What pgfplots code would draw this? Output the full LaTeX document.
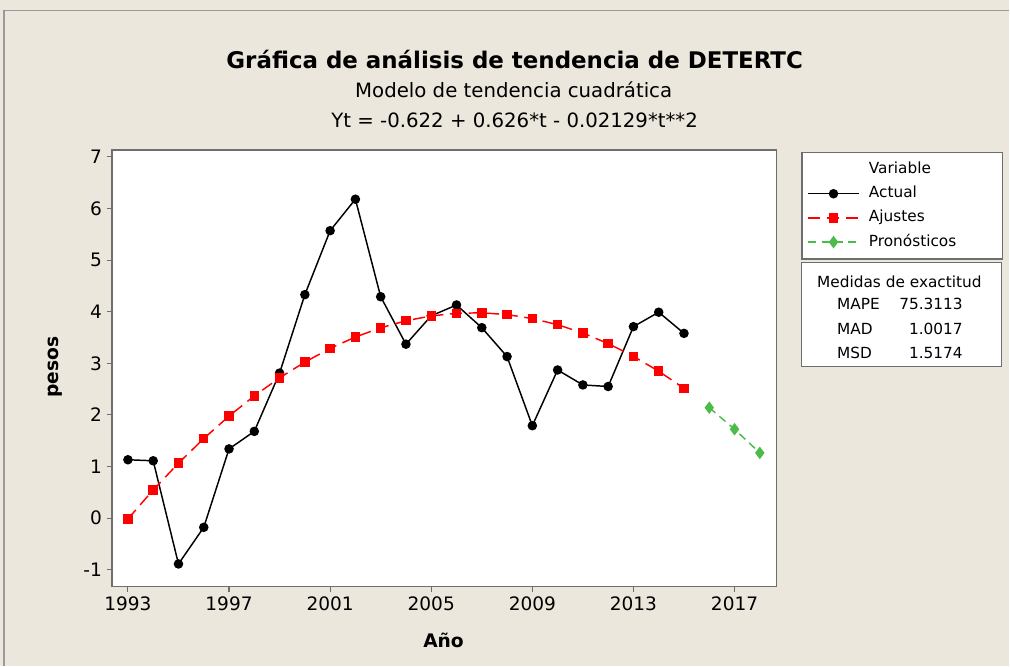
\documentclass[border=0pt]{standalone}
\usepackage{pgfplots}
\pgfplotsset{compat=1.18}
\usepackage{fontspec}
\setmainfont{DejaVu Sans}
\definecolor{bg}{RGB}{236,231,221}
\definecolor{frame}{RGB}{110,110,110}
\definecolor{fitred}{RGB}{255,0,0}
\definecolor{fcgreen}{RGB}{76,187,71}
\begin{document}
\begin{tikzpicture}
\fill[bg] (0,0) rectangle (757.5pt,499.5pt);
\draw[frame!70, line width=1pt] (3pt,0) -- (3pt,491.5pt) -- (757.5pt,491.5pt);
\node[font=\bfseries\fontsize{17.2}{20}\selectfont] at (386.25pt,454.5pt) {Gráfica de análisis de tendencia de DETERTC};
\node[font=\fontsize{14.8}{17}\selectfont] at (385.5pt,432pt) {Modelo de tendencia cuadrática};
\node[font=\fontsize{14.8}{17}\selectfont] at (386.25pt,409.5pt) {Yt = -0.622 + 0.626*t - 0.02129*t**2};
\begin{axis}[
  at={(84pt,59.25pt)}, anchor=south west,
  scale only axis, width=498.75pt, height=327.75pt,
  xmin=1992.367, xmax=2018.66, ymin=-1.329, ymax=7.136,
  xtick={1993,1997,2001,2005,2009,2013,2017},
  ytick={-1,0,1,2,3,4,5,6,7},
  tick pos=left, tick align=outside, major tick length=4pt,
  tick style={frame, line width=0.8pt},
  axis line style={frame, line width=1.2pt},
  axis background/.style={fill=white},
  /pgf/number format/assume math mode=true,
  xticklabel style={/pgf/number format/1000 sep={}},
  ticklabel style={font=\fontsize{13.9}{15}\selectfont},
  xlabel={Año}, ylabel={pesos},
  label style={font=\bfseries\fontsize{14}{16}\selectfont},
  xlabel style={at={(axis description cs:0.499,-0.122)}, anchor=center},
  ylabel style={at={(axis description cs:-0.085,0.503)}, anchor=center},
  legend style={at={(rel axis cs:1.0376,0.9954)}, anchor=north west,
    draw=frame, line width=1pt, fill=white,
    font=\fontsize{11.5}{13}\selectfont,
    row sep=4.15pt, column sep=6pt, inner xsep=4pt, inner ysep=5.75pt,
    nodes={inner sep=1pt, text height=9pt, text depth=3pt, anchor=west}},
  legend cell align=left,
  legend image code/.code={\draw[mark repeat=2,mark phase=2] plot coordinates {(0pt,0pt) (19pt,0pt) (38pt,0pt)};},
  legend image post style={line width=1.1pt},
]
\addlegendimage{empty legend}
\addlegendentry{\makebox[95.5pt][l]{Variable}}
\addplot[black, line width=1.1pt, mark=*, mark size=3pt] coordinates {
(1993,1.13) (1994,1.11) (1995,-0.89) (1996,-0.18) (1997,1.34) (1998,1.68)
(1999,2.81) (2000,4.33) (2001,5.57) (2002,6.18) (2003,4.29) (2004,3.37)
(2005,3.92) (2006,4.13) (2007,3.69) (2008,3.13) (2009,1.79) (2010,2.87)
(2011,2.58) (2012,2.55) (2013,3.71) (2014,3.99) (2015,3.58)};
\addlegendentry{\makebox[95.5pt][l]{Actual}}
\addplot[fitred, line width=1.1pt, dash pattern=on 9pt off 5pt, mark=square*, mark size=3pt, mark options={solid}] coordinates {
(1993,-0.017) (1994,0.545) (1995,1.064) (1996,1.541) (1997,1.976) (1998,2.368)
(1999,2.717) (2000,3.023) (2001,3.288) (2002,3.509) (2003,3.688) (2004,3.824)
(2005,3.918) (2006,3.969) (2007,3.978) (2008,3.944) (2009,3.867) (2010,3.748)
(2011,3.586) (2012,3.382) (2013,3.135) (2014,2.846) (2015,2.514)};
\addlegendentry{\makebox[95.5pt][l]{Ajustes}}
\addplot[fcgreen, line width=1.1pt, dash pattern=on 6pt off 4pt, mark=diamond*, mark size=3.8pt, mark options={solid}] coordinates {
(2016,2.139) (2017,1.722) (2018,1.262)};
\addlegendentry{\makebox[95.5pt][l]{Pronósticos}}
\end{axis}
\draw[frame, line width=1pt, fill=white] (601.5pt,302.25pt) rectangle (751.5pt,224.25pt);
\begin{scope}[font=\fontsize{11.5}{13}\selectfont]
\node at (675pt,288pt) {Medidas de exactitud};
\node[anchor=west] at (624.75pt,271.5pt) {MAPE};
\node[anchor=west] at (624.75pt,252.75pt) {MAD};
\node[anchor=west] at (624.75pt,234.75pt) {MSD};
\node[anchor=east] at (726pt,271.5pt) {75.3113};
\node[anchor=east] at (726pt,252.75pt) {1.0017};
\node[anchor=east] at (726pt,234.75pt) {1.5174};
\end{scope}
\end{tikzpicture}
\end{document}
